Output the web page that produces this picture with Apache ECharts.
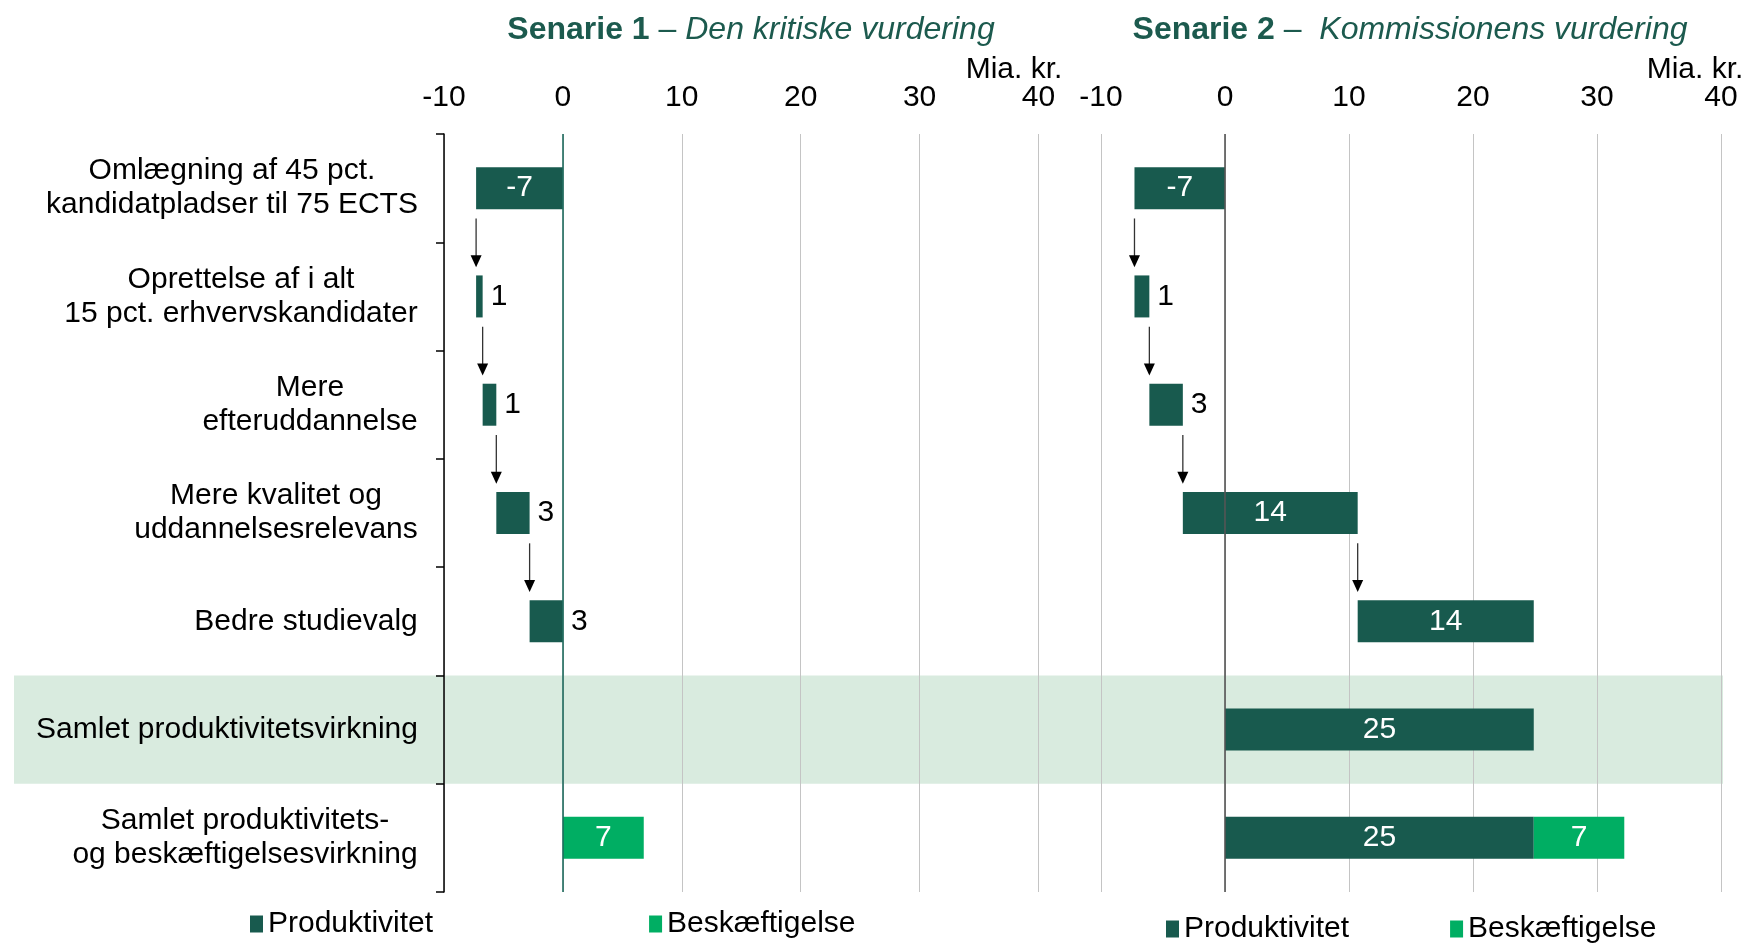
<!DOCTYPE html>
<html>
<head>
<meta charset="utf-8">
<script src="https://cdn.jsdelivr.net/npm/echarts@6/dist/echarts.min.js"></script>
<style>
html, body { margin: 0; background: #fff; }
#chart { width: 1749px; height: 943px; }
</style>
</head>
<body>
<div id="chart"></div>
<script>
// rækker (oppefra og ned)
const categories = [
  'Omlægning af 45 pct.\nkandidatpladser til 75 ECTS',
  'Oprettelse af i alt\n15 pct. erhvervskandidater',
  'Mere\nefteruddannelse',
  'Mere kvalitet og\nuddannelsesrelevans',
  'Bedre studievalg',
  'Samlet produktivitetsvirkning',
  'Samlet produktivitets-\nog beskæftigelsesvirkning'
]
const xTicks = [-10, 0, 10, 20, 30, 40]

// Senarie 1 - Den kritiske vurdering (mia. kr.)
const s1Produktivitet = [-7.3, 0.55, 1.15, 2.8, 2.8, 0, 0]
const s1Beskaeftigelse = [0, 0, 0, 0, 0, 0, 6.8]

// Senarie 2 - Kommissionens vurdering (mia. kr.)
const s2Produktivitet = [-7.3, 1.2, 2.7, 14.1, 14.2, 24.9, 24.9]
const s2Beskaeftigelse = [0, 0, 0, 0, 0, 0, 7.3]

const steps = 5 // de første 5 rækker er et vandfald
const darkGreen = '#185a4e'
const lightGreen = '#00ae63'
const font = '"Liberation Sans", Arial, sans-serif'
const fs = 30

// start for hver bar (usynlig del af stakken)
function bases (values) {
  let sum = 0
  return values.map((v, i) => {
    if (i >= steps) return 0
    const b = sum
    sum += v
    return b
  })
}

// pilene går fra slutningen af en bar til starten af den næste
function arrowData (values) {
  const out = []
  let sum = 0
  for (let i = 0; i < steps - 1; i++) {
    sum += values[i]
    out.push([sum, i])
  }
  return out
}

function barData (values) {
  return values.map(v => {
    const inside = Math.abs(v) >= 5
    return {
      value: v,
      label: {
        position: inside ? 'inside' : 'right',
        color: inside ? '#fff' : '#000'
      }
    }
  })
}

function arrowItem (params, api) {
  const x = api.value(0)
  const row = api.value(1)
  const band = api.size([0, 1])[1]
  const p = api.coord([x, row])
  const y1 = p[1] + band * 0.28
  const y2 = p[1] + band * 0.73
  return {
    type: 'group',
    children: [
      { type: 'line', shape: { x1: p[0], y1: y1, x2: p[0], y2: y2 - 8 }, style: { stroke: '#333', lineWidth: 1.3 } },
      { type: 'polygon', shape: { points: [[p[0] - 5.5, y2 - 12], [p[0] + 5.5, y2 - 12], [p[0], y2]] }, style: { fill: '#000' } }
    ]
  }
}

// kategoritekst: linjer centreret, blokken højrestillet
const ctx = document.createElement('canvas').getContext('2d')
ctx.font = fs + 'px "Liberation Sans", Arial'
const rich = {}
categories.forEach((c, i) => {
  const w = Math.max(...c.split('\n').map(l => ctx.measureText(l).width))
  rich['c' + i] = { width: Math.ceil(w) + 2, align: 'center', fontSize: fs, lineHeight: 34, color: '#000', fontFamily: font }
})

const labelCommon = {
  show: true,
  fontSize: fs,
  fontFamily: font,
  distance: 8,
  formatter: p => (p.value === 0 ? '' : String(Math.round(p.value)))
}

function scenarioSeries (idx, prod, besk, zeroColor) {
  return [
    {
      name: 'base',
      type: 'bar',
      xAxisIndex: idx,
      yAxisIndex: idx,
      stack: 's' + idx,
      stackStrategy: 'all',
      barWidth: 42,
      silent: true,
      itemStyle: { color: 'transparent' },
      data: bases(prod)
    },
    {
      name: 'Produktivitet',
      type: 'bar',
      xAxisIndex: idx,
      yAxisIndex: idx,
      stack: 's' + idx,
      stackStrategy: 'all',
      barWidth: 42,
      itemStyle: { color: darkGreen },
      label: labelCommon,
      data: barData(prod),
      markLine: {
        silent: true,
        symbol: 'none',
        label: { show: false },
        lineStyle: { color: zeroColor, width: 1.6, type: 'solid' },
        data: [{ xAxis: 0 }]
      }
    },
    {
      name: 'Beskæftigelse',
      type: 'bar',
      xAxisIndex: idx,
      yAxisIndex: idx,
      stack: 's' + idx,
      stackStrategy: 'all',
      barWidth: 42,
      itemStyle: { color: lightGreen },
      label: labelCommon,
      data: barData(besk)
    },
    {
      name: 'pile',
      type: 'custom',
      xAxisIndex: idx,
      yAxisIndex: idx,
      silent: true,
      renderItem: arrowItem,
      encode: { x: 0, y: 1 },
      data: arrowData(prod)
    }
  ]
}

function xAxis (idx) {
  return {
    type: 'value',
    gridIndex: idx,
    position: 'top',
    min: xTicks[0],
    max: xTicks[xTicks.length - 1],
    interval: xTicks[1] - xTicks[0],
    axisLine: { show: false },
    axisTick: { show: false },
    axisLabel: { fontSize: fs, color: '#000', fontFamily: font, margin: 21 },
    splitLine: { lineStyle: { color: '#c4c4c4', width: 1 } }
  }
}

const titleColor = '#1c5a4e'
const titleRich = {
  b: { fontWeight: 'bold', fontSize: 32, color: titleColor, fontFamily: font },
  n: { fontWeight: 'normal', fontSize: 32, color: titleColor, fontFamily: font },
  i: { fontWeight: 'normal', fontStyle: 'italic', fontSize: 32, color: titleColor, fontFamily: font }
}

const chart = echarts.init(document.getElementById('chart'))
const option = {
  animation: false,
  backgroundColor: '#fff',
  title: [
    { text: '{b|Senarie 1 }{n|– }{i|Den kritiske vurdering}', left: 751, top: 14, textAlign: 'center', padding: 0, textStyle: { rich: titleRich } },
    { text: '{b|Senarie 2 }{n|–  }{i|Kommissionens vurdering}', left: 1410, top: 14, textAlign: 'center', padding: 0, textStyle: { rich: titleRich } },
    { text: 'Mia. kr.', left: 1014, top: 55, textAlign: 'center', padding: 0, textStyle: { fontSize: fs, fontWeight: 'normal', color: '#000', fontFamily: font } },
    { text: 'Mia. kr.', left: 1695, top: 55, textAlign: 'center', padding: 0, textStyle: { fontSize: fs, fontWeight: 'normal', color: '#000', fontFamily: font } }
  ],
  legend: [
    { data: ['Produktivitet', 'Beskæftigelse'], left: 250, top: 909, itemWidth: 13, itemHeight: 17, itemGap: 216, icon: 'rect', padding: 0, textStyle: { fontSize: fs, color: '#000', fontFamily: font } },
    { data: ['Produktivitet', 'Beskæftigelse'], left: 1166, top: 914, itemWidth: 13, itemHeight: 17, itemGap: 101, icon: 'rect', padding: 0, textStyle: { fontSize: fs, color: '#000', fontFamily: font } }
  ],
  grid: [
    { left: 444, top: 134, width: 594.5, height: 758 },
    { left: 1101, top: 134, width: 620, height: 758 }
  ],
  xAxis: [xAxis(0), xAxis(1)],
  yAxis: [
    {
      type: 'category',
      gridIndex: 0,
      inverse: true,
      data: categories,
      axisLine: { onZero: false, lineStyle: { color: '#000', width: 1.5 } },
      axisTick: { show: true, alignWithLabel: false, interval: 0, length: 8, lineStyle: { color: '#000', width: 1.5 } },
      axisLabel: {
        margin: 25,
        formatter: (value, index) => value.split('\n').map(l => '{c' + index + '|' + l + '}').join('\n'),
        rich: rich
      }
    },
    {
      type: 'category',
      gridIndex: 1,
      inverse: true,
      data: categories,
      axisLine: { show: false },
      axisTick: { show: false },
      axisLabel: { show: false }
    }
  ],
  series: [
    ...scenarioSeries(0, s1Produktivitet, s1Beskaeftigelse, '#1f6b5e'),
    ...scenarioSeries(1, s2Produktivitet, s2Beskaeftigelse, '#555')
  ]
}
chart.setOption(option)

// lysegrønt bånd bag rækken med samlet produktivitetsvirkning
const yA = chart.convertToPixel({ yAxisIndex: 0 }, categories[5])
const yB = chart.convertToPixel({ yAxisIndex: 0 }, categories[6])
const h = yB - yA
chart.setOption({
  graphic: [{ type: 'rect', z: -1, silent: true, shape: { x: 14, y: yA - h / 2, width: 1709, height: h }, style: { fill: '#d9ebdf' } }]
})
</script>
</body>
</html>
